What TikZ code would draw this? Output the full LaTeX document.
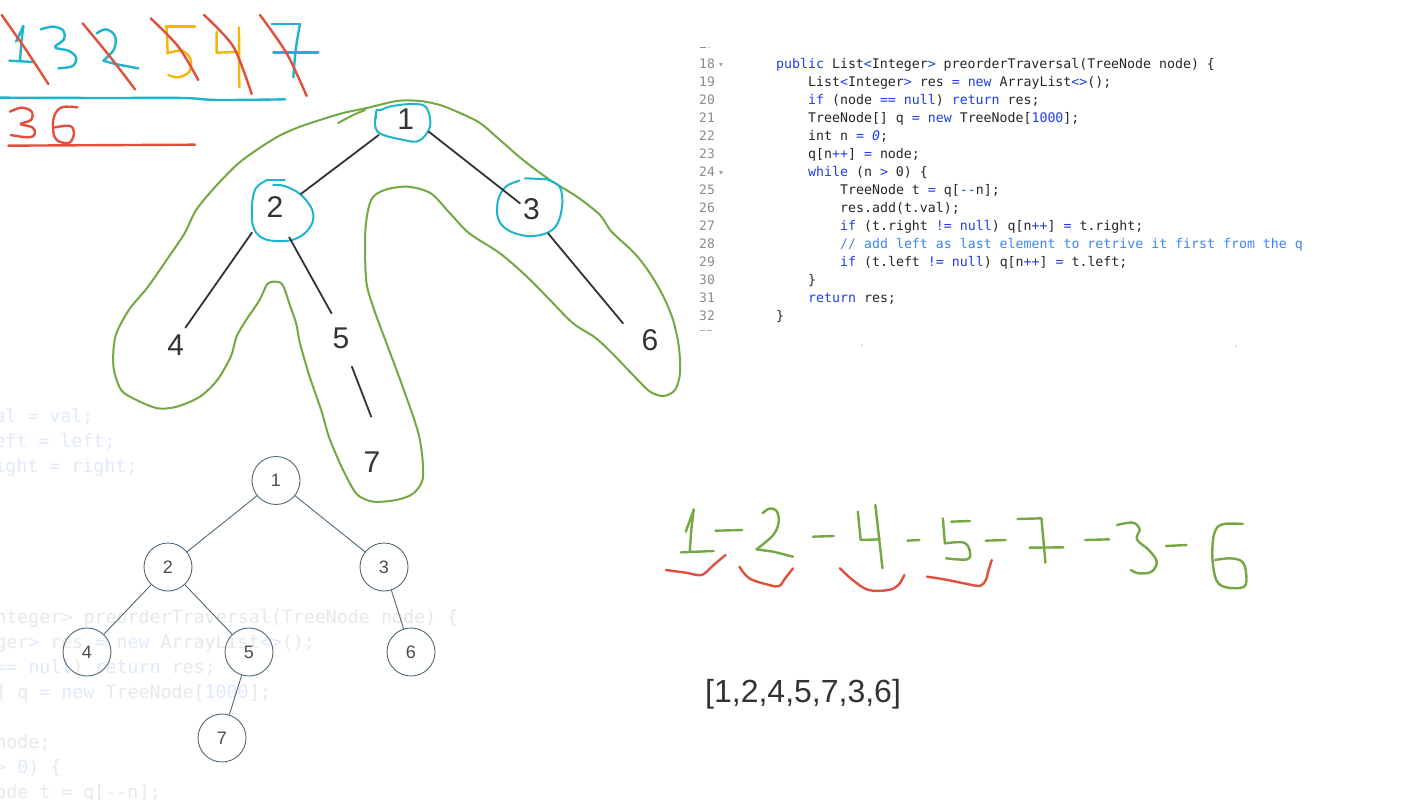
\documentclass[tikz,border=0pt]{standalone}
\usepackage{fontspec}
\setmainfont{Liberation Sans}
\newfontfamily\codefont{DejaVu Sans Mono}
\newfontfamily\symfont{DejaVu Sans}
\definecolor{cyanpen}{HTML}{1EB4CD}
\definecolor{redpen}{HTML}{E0503C}
\definecolor{greenpen}{HTML}{73A842}
\definecolor{orangepen}{HTML}{F5B60A}
\definecolor{inkdark}{HTML}{333333}
\definecolor{slate}{HTML}{50697A}
\definecolor{kwblue}{HTML}{1E3CF0}
\definecolor{cmblue}{HTML}{3D85F5}
\definecolor{lnum}{HTML}{8C8C8C}
\definecolor{fadegray}{HTML}{E8E8E8}
\definecolor{fadeblue}{HTML}{E1E9FB}
\newcommand{\kw}[1]{\textcolor{kwblue}{#1}}
\newcommand{\fk}[1]{\textcolor{fadeblue}{#1}}
\newcommand{\dd}{\mbox{-}\mbox{-}}
\tikzset{
  hand/.style={line width=2.4pt, line cap=round, line join=round},
  cpen/.style={hand, cyanpen},
  rpen/.style={hand, redpen},
  gpen/.style={hand, greenpen},
  open/.style={hand, orangepen},
  blob/.style={line width=2pt, greenpen, line cap=round, line join=round},
  ring/.style={line width=2pt, cyanpen, line cap=round, line join=round},
  edgepen/.style={line width=1.8pt, inkdark, line cap=round},
  lbl/.style={anchor=base, inner sep=0pt, text=inkdark, font=\fontsize{30}{36}\selectfont},
  lnumst/.style={anchor=base west, inner sep=0pt, text=lnum, font=\codefont\fontsize{13}{16}\selectfont},
  codest/.style={anchor=base west, inner sep=0pt, text=black!85, font=\codefont\fontsize{13.25}{16}\selectfont},
  foldst/.style={anchor=base west, inner sep=0pt, text=lnum!80, font=\symfont\fontsize{8}{10}\selectfont},
  fadest/.style={anchor=base west, inner sep=0pt, text=fadegray, font=\codefont\fontsize{18.3}{22}\selectfont},
  snode/.style={circle, draw=slate, line width=0.9pt, minimum size=48pt, inner sep=0pt, text=black!70, font=\fontsize{18}{20}\selectfont},
  sedge/.style={slate, line width=0.9pt}
}
\begin{document}
\begin{tikzpicture}[x=1pt, y=-1pt]
\useasboundingbox (0,0) rectangle (1422,800);
\fill[white] (0,0) rectangle (1422,800);

% ---------- faded code in the background (left) ----------
\node[fadest, text=fadeblue] (f1) at (-72,422) {this.val = val;};
\node[fadest, text=fadeblue] (f2) at (-72,447) {this.left = left;};
\node[fadest, text=fadeblue] (f3) at (-72,472) {this.right = right;};
\node[fadest] (f4) at (-148,623) {\fk{public} List\fk{<}Integer\fk{>} preorderTraversal(TreeNode node) \{};
\node[fadest] (f5) at (-104,648) {List\fk{<}Integer\fk{>} res \fk{=} \fk{new} ArrayList\fk{<>}();};
\node[fadest] (f6) at (-104,673) {\fk{if} (node \fk{==} \fk{null}) \fk{return} res;};
\node[fadest] (f7) at (-104,698) {TreeNode[] q \fk{=} \fk{new} TreeNode[\fk{1000}];};
\node[fadest] (f8) at (-104,748) {q[n\fk{++}] \fk{=} node;};
\node[fadest] (f9) at (-104,773) {\fk{while} (n \fk{>} \fk{0}) \{};
\node[fadest] (f10) at (-60,798) {TreeNode t \fk{=} q[\fk{\dd}n];};

% ---------- top-left handwriting ----------
\begin{scope}[xscale=1/3, yscale=1/3]
  % cyan 1 3 2 7
  \draw[cpen] plot[smooth] coordinates {(48,125) (60,100) (70,78)};
  \draw[cpen] plot[smooth] coordinates {(70,78) (64,130) (60,182)};
  \draw[cpen] (28,182) -- (100,186);
  \draw[cpen] plot[smooth, tension=0.6] coordinates {(122,88) (160,80) (190,92) (192,118) (165,142) (205,152) (228,172) (218,198) (175,205)};
  \draw[cpen] plot[smooth, tension=0.6] coordinates {(290,100) (318,88) (345,108) (342,148) (310,182)};
  \draw[cpen] (310,182) -- (345,192) -- (415,205);
  \draw[cpen] (815,72) -- (900,72);
  \draw[cpen] plot[smooth] coordinates {(900,72) (887,150) (880,232)};
  \draw[cpen] (820,157) -- (955,157);
  % orange 5 4
  \draw[open] (497,80) -- (585,80);
  \draw[open] (500,78) -- (503,160);
  \draw[open] plot[smooth, tension=0.6] coordinates {(503,160) (545,152) (572,178) (568,215) (535,232) (505,225)};
  \draw[open] (650,95) -- (650,158) -- (712,156);
  \draw[open] (717,82) -- (718,262);
  % red slashes
  \draw[rpen] plot[smooth] coordinates {(5,45) (75,145) (145,252)};
  \draw[rpen] plot[smooth] coordinates {(248,70) (330,170) (405,268)};
  \draw[rpen] plot[smooth] coordinates {(452,55) (535,140) (595,240)};
  \draw[rpen] plot[smooth] coordinates {(612,45) (700,140) (755,282)};
  \draw[rpen] plot[smooth] coordinates {(780,45) (860,160) (920,288)};
  % cyan underline
  \draw[cpen] plot[smooth] coordinates {(0,293) (300,294) (550,294) (650,300) (855,298)};
  % red 3 6
  \draw[rpen] plot[smooth, tension=0.6] coordinates {(30,335) (65,323) (95,335) (93,360) (62,372) (97,382) (105,402) (85,412) (32,405)};
  \draw[rpen] plot[smooth, tension=0.6] coordinates {(232,322) (185,322) (162,350) (160,395) (172,422) (208,428) (222,400) (210,378) (165,382)};
  \draw[rpen] (25,437) -- (585,434);
\end{scope}

% ---------- green outline around the tree ----------
\begin{scope}[shift={(100,90)}, xscale=1/2.6, yscale=1/3]
  \draw[blob] plot[smooth cycle, tension=0.5] coordinates {
    (520,110) (572,90) (632,69) (694,54) (772,33) (832,33) (884,45) (936,69) (988,99)
    (1040,150) (1100,210) (1170,270) (1240,320) (1300,375) (1330,425) (1390,490)
    (1430,550) (1465,620) (1490,690) (1505,770) (1508,850) (1495,900) (1465,918)
    (1430,905) (1390,860) (1340,800) (1290,745) (1230,700) (1170,630) (1110,560)
    (1040,490) (960,430) (910,370) (860,310) (800,290) (740,300) (705,330) (690,420)
    (692,570) (710,650) (745,760) (790,900) (830,1040) (840,1160) (815,1210) (770,1230)
    (710,1235) (670,1215) (645,1170) (620,1110) (595,1040) (575,960) (545,860) (520,760)
    (510,700) (495,650) (475,585) (455,575) (435,582) (415,630) (380,690) (355,740)
    (340,800) (305,870) (260,920) (200,950) (150,955) (95,930) (55,900) (35,830)
    (40,740) (75,660) (125,590) (185,490) (220,430) (250,360) (300,290) (360,220)
    (420,170) (470,135)};
  \draw[blob] (619,99) -- (658,75) -- (689,60);
  % cyan rings
  \draw[ring] (718,85) -- (718,65);
  \draw[ring] plot[smooth cycle, tension=0.6] coordinates {(718,65) (722,125) (790,150) (830,152) (858,110) (850,55) (820,42) (760,48) (730,60)};
  \draw[ring] (480,270) -- (432,270);
  \draw[ring] plot[smooth, tension=0.6] coordinates {(432,272) (405,295) (395,350) (400,415) (430,448) (490,452) (530,432) (553,395) (550,355) (520,312) (480,288) (450,285)};
  \draw[ring] (1105,265) -- (1165,268);
  \draw[ring] plot[smooth, tension=0.6] coordinates {(1165,270) (1195,290) (1202,340) (1190,400) (1160,430) (1110,438) (1060,420) (1035,385) (1035,330) (1055,290) (1090,272)};
\end{scope}

% ---------- hand-drawn tree ----------
\node[lbl] (t1) at (405.8,129) {1};
\node[lbl] (t2) at (275,217.4) {2};
\node[lbl] (t3) at (531.5,219) {3};
\node[lbl] (t4) at (175.8,355.7) {4};
\node[lbl] (t5) at (341,348.7) {5};
\node[lbl] (t6) at (650,350.7) {6};
\node[lbl] (t7) at (372,472.4) {7};
\coordinate (a12) at (378.8,135);  \coordinate (b12) at (300.8,194);
\coordinate (a13) at (428.8,131.7); \coordinate (b13) at (520,203.3);
\coordinate (a24) at (251.9,232.7); \coordinate (b24) at (185.4,327.7);
\coordinate (a25) at (289.2,237.3); \coordinate (b25) at (331.5,313.3);
\coordinate (a57) at (351.9,366.7); \coordinate (b57) at (371.2,416.7);
\coordinate (a36) at (548,233.3);   \coordinate (b36) at (623,323.3);
\draw[edgepen] (a12) -- (b12);
\draw[edgepen] (a13) -- (b13);
\draw[edgepen] (a24) -- (b24);
\draw[edgepen] (a25) -- (b25);
\draw[edgepen] (a57) -- (b57);
\draw[edgepen] (a36) -- (b36);

% ---------- small clean tree ----------
\node[snode] (s1) at (276,480.5) {1};
\node[snode] (s2) at (168,567) {2};
\node[snode] (s3) at (384,567) {3};
\node[snode] (s4) at (87,652) {4};
\node[snode] (s5) at (249,652) {5};
\node[snode] (s6) at (411,652) {6};
\node[snode] (s7) at (222,738) {7};
\draw[sedge] (s1) -- (s2);
\draw[sedge] (s1) -- (s3);
\draw[sedge] (s2) -- (s4);
\draw[sedge] (s2) -- (s5);
\draw[sedge] (s3) -- (s6);
\draw[sedge] (s5) -- (s7);

% ---------- code block ----------
\draw[lnum, line width=0.8pt] (700,47.5) -- (706,47.5);
\fill[lnum] (709,47.5) circle (0.6);
\draw[lnum!70, line width=0.8pt] (700,330.5) -- (705,330.5) (707,330.5) -- (712,330.5);
\fill[redpen!50] (862,345) circle (0.8);
\fill[redpen!50] (1236,346) circle (0.8);
\foreach \n [count=\i from 0] in {18,...,32} {
  \node[lnumst] (ln\n) at (699,68.5+18*\i) {\n};
}
\node[foldst] (fold18) at (719,67) {▾};
\node[foldst] (fold24) at (719,175) {▾};
\node[codest] (c18) at (776,68.5)  {\kw{public} List\kw{<}Integer\kw{>} preorderTraversal(TreeNode node) \{};
\node[codest] (c19) at (808,86.5)  {List\kw{<}Integer\kw{>} res \kw{=} \kw{new} ArrayList\kw{<>}();};
\node[codest] (c20) at (808,104.5) {\kw{if} (node \kw{==} \kw{null}) \kw{return} res;};
\node[codest] (c21) at (808,122.5) {TreeNode[] q \kw{=} \kw{new} TreeNode[\kw{1000}];};
\node[codest] (c22) at (808,140.5) {int n \kw{=} \kw{\itshape 0};};
\node[codest] (c23) at (808,158.5) {q[n\kw{++}] \kw{=} node;};
\node[codest] (c24) at (808,176.5) {\kw{while} (n \kw{>} 0) \{};
\node[codest] (c25) at (840,194.5) {TreeNode t \kw{=} q[\kw{\dd}n];};
\node[codest] (c26) at (840,212.5) {res.add(t.val);};
\node[codest] (c27) at (840,230.5) {\kw{if} (t.right \kw{!=} \kw{null}) q[n\kw{++}] \kw{=} t.right;};
\node[codest, text=cmblue] (c28) at (840,248.5) {//~add left as last element to retrive it first from the q};
\node[codest] (c29) at (840,266.5) {\kw{if} (t.left \kw{!=} \kw{null}) q[n\kw{++}] \kw{=} t.left;};
\node[codest] (c30) at (808,284.5) {\}};
\node[codest] (c31) at (808,302.5) {\kw{return} res;};
\node[codest] (c32) at (776,320.5) {\}};

% ---------- green sequence 1-2-4-5-7-3-6 ----------
\begin{scope}[shift={(650,490)}, xscale=1/2.516, yscale=1/3]
  \draw[gpen] (90,125) -- (110,60);
  \draw[gpen] plot[smooth] coordinates {(110,58) (104,120) (100,185)};
  \draw[gpen] (78,187) -- (160,183);
  \draw[gpen] (165,122) -- (232,120);
  \draw[gpen] plot[smooth, tension=0.6] coordinates {(283,70) (300,56) (318,62) (324,95) (310,135) (268,178)};
  \draw[gpen] (268,178) -- (310,185) -- (360,200);
  \draw[gpen] (410,140) -- (462,138);
  \draw[gpen] (523,65) -- (530,150) -- (578,148);
  \draw[gpen] (567,45) -- (585,235);
  \draw[gpen] (648,152) -- (678,150);
  \draw[gpen] (758,95) -- (805,93);
  \draw[gpen] (737,85) -- (742,160);
  \draw[gpen] plot[smooth, tension=0.6] coordinates {(742,160) (790,158) (805,185) (798,208) (745,205)};
  \draw[gpen] (845,152) -- (895,150);
  \draw[gpen] (925,87) -- (985,85) -- (995,218);
  \draw[gpen] (955,173) -- (1040,172);
  \draw[gpen] (1095,150) -- (1155,148);
  \draw[gpen] plot[smooth, tension=0.6] coordinates {(1175,105) (1215,98) (1232,118) (1225,148) (1255,180) (1275,215) (1262,245) (1230,250) (1210,240)};
  \draw[gpen] (1298,168) -- (1350,165);
  \draw[gpen] plot[smooth, tension=0.6] coordinates {(1492,102) (1440,103) (1420,130) (1415,200) (1425,270) (1450,292) (1495,290) (1500,250) (1490,215) (1460,205) (1422,210)};
  % red underlines
  \draw[rpen] plot[smooth, tension=0.5] coordinates {(40,240) (90,248) (130,255) (160,225) (190,195)};
  \draw[rpen] plot[smooth, tension=0.6] coordinates {(225,230) (250,265) (300,285) (325,288) (340,265) (360,235)};
  \draw[rpen] plot[smooth, tension=0.6] coordinates {(478,235) (510,270) (550,300) (600,300) (625,285) (640,255)};
  \draw[rpen] plot[smooth, tension=0.5] coordinates {(697,260) (740,268) (790,280) (830,288) (845,270) (852,240) (860,210)};
\end{scope}

% ---------- result ----------
\node[anchor=base west, inner sep=0pt, text=inkdark, font=\fontsize{32}{38}\selectfont] (res) at (705,702) {[1,2,4,5,7,3,6]};
\end{tikzpicture}
\end{document}
